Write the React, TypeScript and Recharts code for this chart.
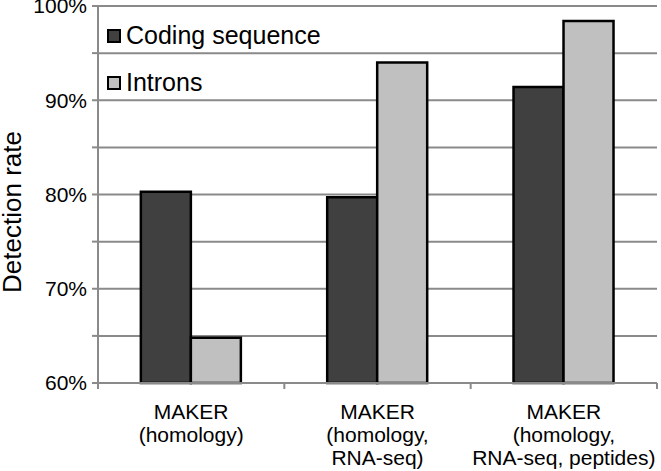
import React from 'react'
import {
  BarChart,
  Bar,
  XAxis,
  YAxis,
  CartesianGrid,
  Legend,
} from 'recharts'

// category labels, one line per entry
const categories = [
  ['MAKER', '(homology)'],
  ['MAKER', '(homology,', 'RNA-seq)'],
  ['MAKER', '(homology,', 'RNA-seq, peptides)'],
]

const codingSequence = [80.3, 79.7, 91.4]
const introns = [64.8, 94.0, 98.4]

const yTicks = [60, 65, 70, 75, 80, 85, 90, 95, 100]

const SERIES = [
  { key: 'coding', name: 'Coding sequence', color: '#404040' },
  { key: 'introns', name: 'Introns', color: '#c0c0c0' },
]

const FONT = "'Liberation Sans', Arial, sans-serif"
const GRID = '#8a8a8a'

const data = categories.map((lines, i) => ({
  name: lines.join(' '),
  lines,
  coding: codingSequence[i],
  introns: introns[i],
}))

// multi-line category label with tick marks on band boundaries
const CategoryTick = (props: any) => {
  const { x, y, payload, index } = props
  const half = payload?.offset || 93
  const lines: string[] = data[index]?.lines || [String(payload.value)]
  return (
    <g>
      <line x1={x - half} x2={x - half} y1={y} y2={y + 6} stroke={GRID} strokeWidth={2} />
      {index === data.length - 1 && (
        <line x1={x + half} x2={x + half} y1={y} y2={y + 6} stroke={GRID} strokeWidth={2} />
      )}
      <text x={x} y={y + 36} textAnchor="middle" fontSize={21} fontFamily={FONT} fill="#000">
        {lines.map((l, i) => (
          <tspan key={i} x={x} dy={i === 0 ? 0 : 23}>
            {l}
          </tspan>
        ))}
      </text>
    </g>
  )
}

const renderLegend = () => (
  <div style={{ fontFamily: FONT, fontSize: 25, color: '#000' }}>
    {SERIES.map((s) => (
      <div key={s.key} style={{ display: 'flex', alignItems: 'center', height: 47 }}>
        <span
          style={{
            display: 'inline-block',
            width: 10,
            height: 10,
            background: s.color,
            border: '2px solid #000',
            marginRight: 5,
          }}
        />
        <span style={{ lineHeight: 1 }}>{s.name}</span>
      </div>
    ))}
  </div>
)

export default function App() {
  return (
    <div style={{ position: 'absolute', left: 0, top: 0, background: '#fff' }}>
      <BarChart
        width={661}
        height={471}
        data={data}
        margin={{ top: 6, right: 4, left: 0, bottom: 0 }}
        barCategoryGap="23%"
        barGap={0}
      >
        <CartesianGrid vertical={false} stroke={GRID} strokeWidth={2} />
        <XAxis
          dataKey="name"
          height={88}
          axisLine={{ stroke: GRID, strokeWidth: 2 }}
          tickLine={false}
          tickSize={0}
          tickMargin={0}
          interval={0}
          tick={<CategoryTick />}
        />
        <YAxis
          width={98}
          domain={[60, 100]}
          ticks={yTicks}
          interval={0}
          axisLine={{ stroke: GRID, strokeWidth: 2 }}
          tickLine={{ stroke: GRID, strokeWidth: 2 }}
          tickSize={6}
          tickMargin={5}
          tick={{ fontSize: 21, fontFamily: FONT, fill: '#000' }}
          tickFormatter={(v: number) => (v % 10 === 0 ? `${v}%` : '')}
          label={{
            content: () => (
              <text
                x={21}
                y={212}
                transform="rotate(-90 21 212)"
                textAnchor="middle"
                fontSize={26}
                fontFamily={FONT}
                fill="#000"
              >
                Detection rate
              </text>
            ),
          }}
        />
        <Legend
          layout="vertical"
          align="center"
          verticalAlign="middle"
          wrapperStyle={{ top: 12, left: 107, width: 'auto' }}
          content={renderLegend}
        />
        {SERIES.map((s) => (
          <Bar
            key={s.key}
            dataKey={s.key}
            name={s.name}
            fill={s.color}
            stroke="#000"
            strokeWidth={2.5}
            isAnimationActive={false}
          />
        ))}
      </BarChart>
    </div>
  )
}
